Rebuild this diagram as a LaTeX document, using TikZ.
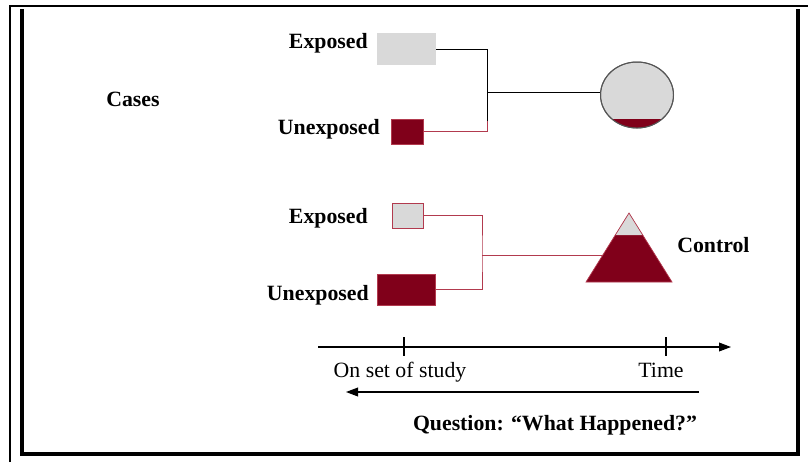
\documentclass[tikz,border=0pt]{standalone}
\usepackage{fontspec}
\setmainfont{Liberation Serif}
\usepackage{xcolor}
\usetikzlibrary{shapes,arrows,positioning,arrows.meta}
\definecolor{casegray}{RGB}{217,217,217}
\definecolor{casedarkred}{RGB}{128,0,26}
\definecolor{caselinered}{RGB}{178,58,78}
\definecolor{caseoutline}{RGB}{85,85,85}

\tikzset{
    grouplabel/.style={font=\fontsize{15.5}{18}\selectfont\bfseries, inner sep=0pt},
    timelabel/.style={font=\fontsize{15.5}{18}\selectfont, inner sep=0pt},
    graybox/.style={rectangle, fill=casegray, inner sep=0pt},
    redbox/.style={rectangle, fill=casedarkred, draw=caselinered, line width=0.6pt, inner sep=0pt},
    blackline/.style={draw=black, line width=0.7pt},
    redline/.style={draw=caselinered, line width=0.7pt},
    timeline/.style={draw=black, line width=0.8pt, -{Triangle[length=0.3cm,width=0.22cm]}}
}

\begin{document}
\begin{tikzpicture}[x=0.025cm, y=-0.025cm]
    \useasboundingbox (0,0) rectangle (808,462);

    % Frame
    \draw[line width=1pt] (10,462) -- (10,6) -- (808,6);
    \draw[line width=2.2pt] (22,9) -- (22,454) -- (798,454) -- (798,9);

    % Cases group
    \node[grouplabel, anchor=base] (cases) at (133,106) {Cases};
    \node[grouplabel, anchor=base east] (expTopLbl) at (368,48) {Exposed};
    \node[grouplabel, anchor=base east] (unexpTopLbl) at (380,134) {Unexposed};
    \node[graybox, minimum width=1.475cm, minimum height=0.8cm] (expTop) at (406.5,49) {};
    \node[redbox, minimum width=0.8cm, minimum height=0.625cm] (unexpTop) at (407,131.5) {};

    % Cases circle
    \node[ellipse, draw=caseoutline, fill=casegray, line width=0.7pt, minimum width=1.825cm, minimum height=1.65cm, inner sep=0pt] (caseCircle) at (637,95) {};
    \begin{scope}
        \clip (637,95) ellipse [x radius=0.91cm, y radius=0.82cm];
        \fill[casedarkred] (598,119) rectangle (676,130);
    \end{scope}
    \draw[caseoutline, line width=0.7pt] (caseCircle.center) ellipse [x radius=0.9125cm, y radius=0.825cm];

    % Cases connectors
    \coordinate (topJoin) at (487,92);
    \coordinate (topRedStart) at (487,121);
    \draw[blackline] (expTop.east) -| (topRedStart);
    \draw[redline] (unexpTop.east) -| (topRedStart);
    \draw[blackline] (topJoin) -- (topJoin -| caseCircle.west);

    % Control group
    \node[grouplabel, anchor=base east] (expBotLbl) at (368,223) {Exposed};
    \node[grouplabel, anchor=base east] (unexpBotLbl) at (369,300) {Unexposed};
    \node[graybox, draw=caselinered, line width=0.7pt, minimum width=0.775cm, minimum height=0.625cm] (expBot) at (407.5,215.5) {};
    \node[redbox, minimum width=1.45cm, minimum height=0.775cm] (unexpBot) at (406,289.5) {};
    \node[grouplabel, anchor=base west] (control) at (677,252) {Control};

    % Control triangle
    \coordinate (apex) at (629,213);
    \coordinate (baseLeft) at (586,282);
    \coordinate (baseRight) at (672,282);
    \coordinate (ctrlIn) at (602.8,255);
    \fill[casedarkred] (apex) -- (baseLeft) -- (baseRight) -- cycle;
    \fill[casegray] (apex) -- (615.3,235) -- (642.7,235) -- cycle;
    \draw[caselinered, line width=0.5pt] (apex) -- (baseLeft) -- (baseRight) -- cycle;

    % Control connectors
    \coordinate (botJoin) at (482,255);
    \draw[redline] (expBot.east) -| (botJoin) |- (unexpBot.east);
    \draw[redline] (botJoin) -- (ctrlIn);

    % Time axis
    \coordinate (axisStart) at (318,347);
    \coordinate (axisEnd) at (731,347);
    \coordinate (onset) at (404,347);
    \coordinate (timeTick) at (666,347);
    \draw[timeline] (axisStart) -- (axisEnd);
    \draw[line width=0.8pt] (404,337) -- (404,356);
    \draw[line width=0.8pt] (666,337) -- (666,356);
    \node[timelabel, anchor=base] (onsetLbl) at (400,377) {On set of study};
    \node[timelabel, anchor=base] (timeLbl) at (661,377) {Time};

    % Looking back
    \coordinate (backStart) at (699,392);
    \coordinate (backEnd) at (346,392);
    \draw[timeline] (backStart) -- (backEnd);
    \node[grouplabel, anchor=base] (question) at (555,430) {Question: “What Happened?”};
\end{tikzpicture}
\end{document}
